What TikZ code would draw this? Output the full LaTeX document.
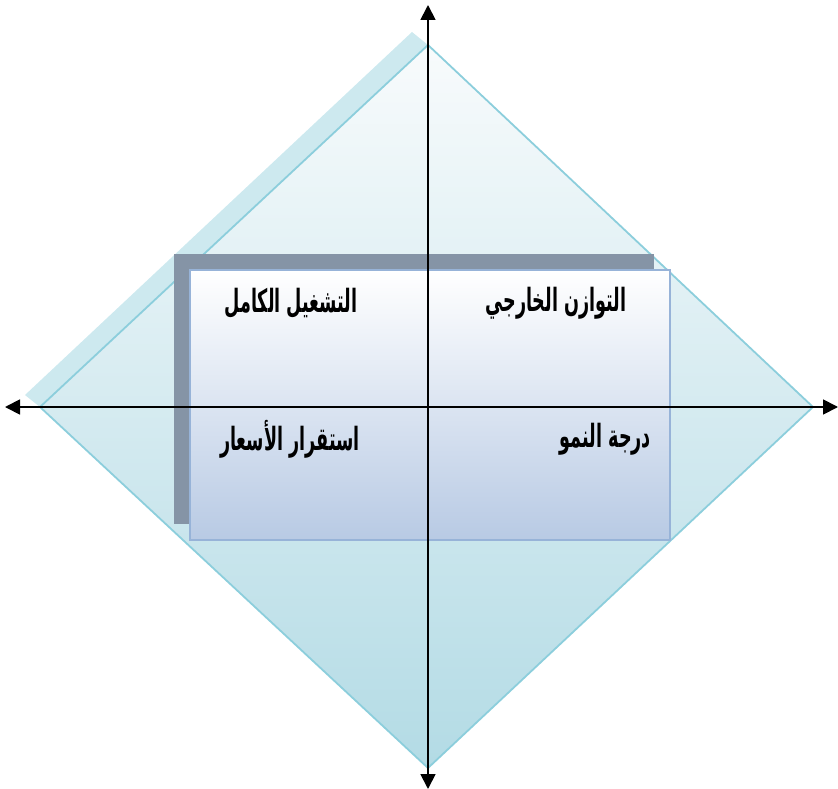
\documentclass[tikz,border=0pt]{standalone}
\usepackage{fontspec}
\newfontfamily\arabicfont[Script=Arabic]{DejaVu Sans}
\TeXXeTstate=1
\usetikzlibrary{arrows.meta}
\definecolor{dborder}{HTML}{8CCEDC}
\definecolor{dtop}{HTML}{F8FBFC}
\definecolor{dbot}{HTML}{B3DBE5}
\definecolor{dshadow}{HTML}{CDE9EF}
\definecolor{rshadow}{HTML}{8594A6}
\definecolor{rborder}{HTML}{97B3D8}
\definecolor{rbot}{HTML}{B8CAE4}
\tikzset{
  axis/.style={line width=1.8pt,-{Triangle[length=15pt,width=15pt]}},
  lbl/.style={font=\arabicfont\bfseries\fontsize{32}{36}\selectfont,inner sep=0pt,xscale=0.55},
}
\begin{document}
\begin{tikzpicture}[x=1pt,y=-1pt]
\useasboundingbox (0,0) rectangle (838,789);
% diamond shadow band
\fill[dshadow] (412,32) -- (25,395) -- (40,407) -- (428,45) -- cycle;
% diamond
\shade[top color=dtop,bottom color=dbot] (428,45) -- (813,407) -- (428,768) -- (40,407) -- cycle;
\draw[dborder,line width=1.8pt] (428,45) -- (813,407) -- (428,768) -- (40,407) -- cycle;
% rectangle shadow
\fill[rshadow] (174,254) rectangle (654,524);
% rectangle
\shade[top color=white,bottom color=rbot] (190,270) rectangle (670,540);
\draw[rborder,line width=1.8pt] (190,270) rectangle (670,540);
% axes
\coordinate (o) at (428,407);
\coordinate (n) at (428,5);
\coordinate (s) at (428,789);
\coordinate (w) at (5,407);
\coordinate (e) at (838,407);
\draw[axis] (o) -- (n);
\draw[axis] (o) -- (s);
\draw[axis] (o) -- (w);
\draw[axis] (o) -- (e);
% labels
\node[lbl] (tl) at (291,303) {\beginR التشغيل الكامل\endR};
\node[lbl] (tr) at (556,303) {\beginR التوازن الخارجي\endR};
\node[lbl] (bl) at (290,439) {\beginR استقرار الأسعار\endR};
\node[lbl,anchor=east] (br) at (651,439) {\beginR درجة النمو\endR};
\end{tikzpicture}
\end{document}
